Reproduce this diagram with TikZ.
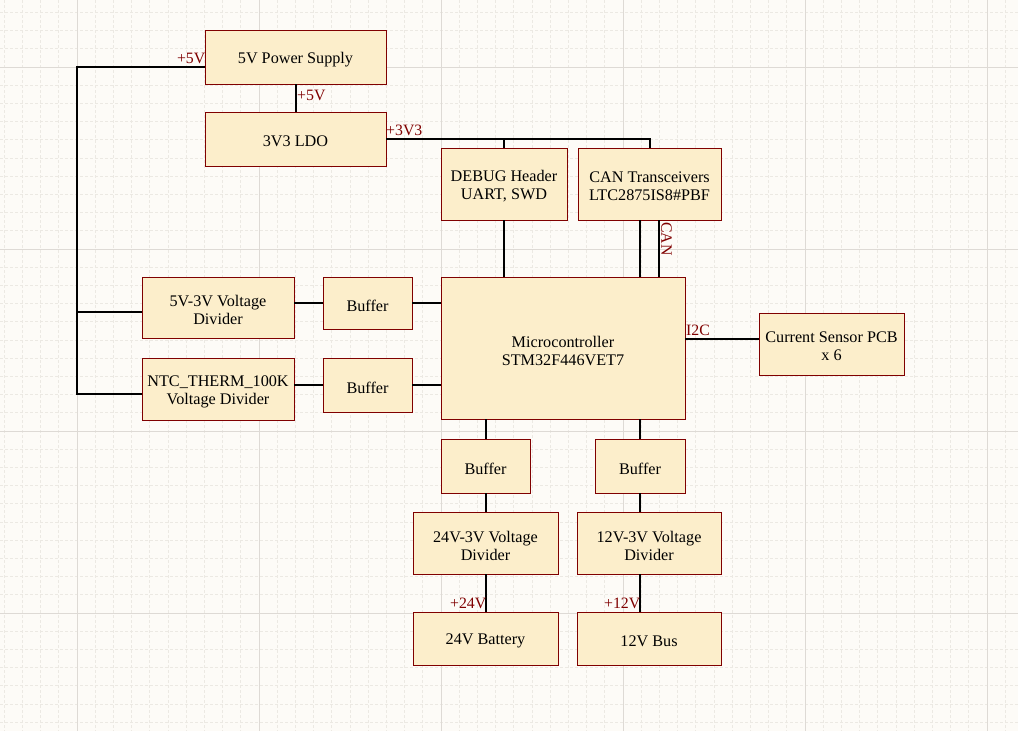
\documentclass[tikz,border=0pt]{standalone}
\usepackage{fontspec}
\setmainfont{Liberation Serif}
\usetikzlibrary{calc}
\definecolor{bgc}{RGB}{253,251,247}
\definecolor{majg}{RGB}{222,218,213}
\definecolor{ming}{RGB}{236,233,227}
\definecolor{boxfill}{RGB}{252,238,203}
\definecolor{boxred}{RGB}{128,0,0}
\definecolor{labred}{RGB}{128,0,0}
\tikzset{
  blk/.style={draw=boxred, fill=boxfill, line width=0.9pt, inner sep=1pt},
  txt/.style={align=center, inner sep=0pt, yshift=-2.5pt,
    font=\fontsize{16.2}{18}\selectfont, text=black},
  wire/.style={line width=2pt, black},
  netlab/.style={text=labred, inner sep=0pt, font=\fontsize{15.8}{18}\selectfont},
  majline/.style={majg, line width=1pt},
  minline/.style={ming, line width=0.7pt, dash pattern=on 3pt off 2pt}
}
\begin{document}
\begin{tikzpicture}[x=1pt,y=-1pt]
\useasboundingbox (0,0) rectangle (1018,731);
\fill[bgc] (0,0) rectangle (1018,731);
% grid
\foreach \i in {-4,...,52} {\draw[minline] ({77+18.2*\i},0) -- ({77+18.2*\i},731);}
\foreach \j in {-3,...,37} {\draw[minline] (0,{67+18.2*\j}) -- (1018,{67+18.2*\j});}
\foreach \i in {0,...,5} {\draw[majline] ({77+182*\i},0) -- ({77+182*\i},731);}
\foreach \j in {0,...,3} {\draw[majline] (0,{67+182*\j}) -- (1018,{67+182*\j});}

% blocks
\node[blk, minimum width=181pt, minimum height=54pt, label={[txt]center:5V Power Supply}] (ps) at (295.5,57) {};
\node[blk, minimum width=181pt, minimum height=54pt, label={[txt]center:3V3 LDO}] (ldo) at (295.5,139) {};
\node[blk, minimum width=126pt, minimum height=72pt, label={[txt]center:{DEBUG Header\\UART, SWD}}] (dbg) at (504,184) {};
\node[blk, minimum width=143pt, minimum height=72pt, label={[txt]center:{CAN Transceivers\\LTC2875IS8\#PBF}}] (can) at (649.5,184) {};
\node[blk, minimum width=244pt, minimum height=142pt, label={[txt]center:{Microcontroller\\STM32F446VET7}}] (mcu) at (563,348) {};
\node[blk, minimum width=152pt, minimum height=61pt, label={[txt]center:{5V-3V Voltage\\Divider}}] (div5) at (218,307.5) {};
\node[blk, minimum width=152pt, minimum height=62pt, label={[txt]center:{NTC\_THERM\_100K\\Voltage Divider}}] (ntc) at (218,389) {};
\node[blk, minimum width=89pt, minimum height=52pt, label={[txt]center:Buffer}] (buf1) at (367.5,303) {};
\node[blk, minimum width=89pt, minimum height=54pt, label={[txt]center:Buffer}] (buf2) at (367.5,385) {};
\node[blk, minimum width=145pt, minimum height=62pt, label={[txt]center:{Current Sensor PCB\\x 6}}] (cs) at (831.5,344) {};
\node[blk, minimum width=89pt, minimum height=54pt, label={[txt]center:Buffer}] (buf3) at (485.5,466) {};
\node[blk, minimum width=90pt, minimum height=54pt, label={[txt]center:Buffer}] (buf4) at (640,466) {};
\node[blk, minimum width=145pt, minimum height=62pt, label={[txt]center:{24V-3V Voltage\\Divider}}] (div24) at (485.5,543) {};
\node[blk, minimum width=144pt, minimum height=62pt, label={[txt]center:{12V-3V Voltage\\Divider}}] (div12) at (649,543) {};
\node[blk, minimum width=145pt, minimum height=53pt, label={[txt]center:24V Battery}] (bat) at (485.5,638.5) {};
\node[blk, minimum width=144pt, minimum height=53pt, label={[txt]center:12V Bus}] (bus) at (649,638.5) {};

% helper coordinates
\coordinate (t1) at (77,67);
\coordinate (t2) at (77,312);
\coordinate (t3) at (77,394);
\coordinate (i2cy) at (0,339);
\coordinate (canA) at ([xshift=-9.5pt]can.south);
\coordinate (canB) at ([xshift=9.5pt]can.south);

% wires
\draw[wire] (ps.west |- t1) -- (t1) -- (t3) -- (ntc.west |- t3);
\draw[wire] (t2) -- (div5.west |- t2);
\draw[wire] (ps.south) -- (ldo.north);
\draw[wire] (ldo.east) -- (can.north |- ldo.east) -- (can.north);
\draw[wire] (dbg.north |- ldo.east) -- (dbg.north);
\draw[wire] (dbg.south) -- (dbg.south |- mcu.north);
\draw[wire] (canA) -- (canA |- mcu.north);
\draw[wire] (canB) -- (canB |- mcu.north);
\draw[wire] (buf1.west -| div5.east) -- (buf1.west);
\draw[wire] (buf1.east) -- (buf1.east -| mcu.west);
\draw[wire] (buf2.west -| ntc.east) -- (buf2.west);
\draw[wire] (buf2.east) -- (buf2.east -| mcu.west);
\draw[wire] (mcu.east |- i2cy) -- (cs.west |- i2cy);
\draw[wire] (buf3.north |- mcu.south) -- (buf3.north);
\draw[wire] (buf4.north |- mcu.south) -- (buf4.north);
\draw[wire] (buf3.south) -- (buf3.south |- div24.north);
\draw[wire] (buf4.south) -- (buf4.south |- div12.north);
\draw[wire] (buf3.south |- div24.south) -- (buf3.south |- bat.north);
\draw[wire] (buf4.south |- div12.south) -- (buf4.south |- bus.north);

% net labels
\node[netlab, anchor=east] (l5a) at (205.5,58) {+5V};
\node[netlab, anchor=west] (l5b) at (297,95) {+5V};
\node[netlab, anchor=west] (l33) at (386,130.5) {+3V3};
\node[netlab, rotate=-90] (lcan) at (666.5,239) {CAN};
\node[netlab, anchor=west] (li2c) at (686,330.5) {I2C};
\node[netlab, anchor=east] (l24) at (486.5,603) {+24V};
\node[netlab, anchor=east] (l12) at (640.5,603) {+12V};
\end{tikzpicture}
\end{document}
